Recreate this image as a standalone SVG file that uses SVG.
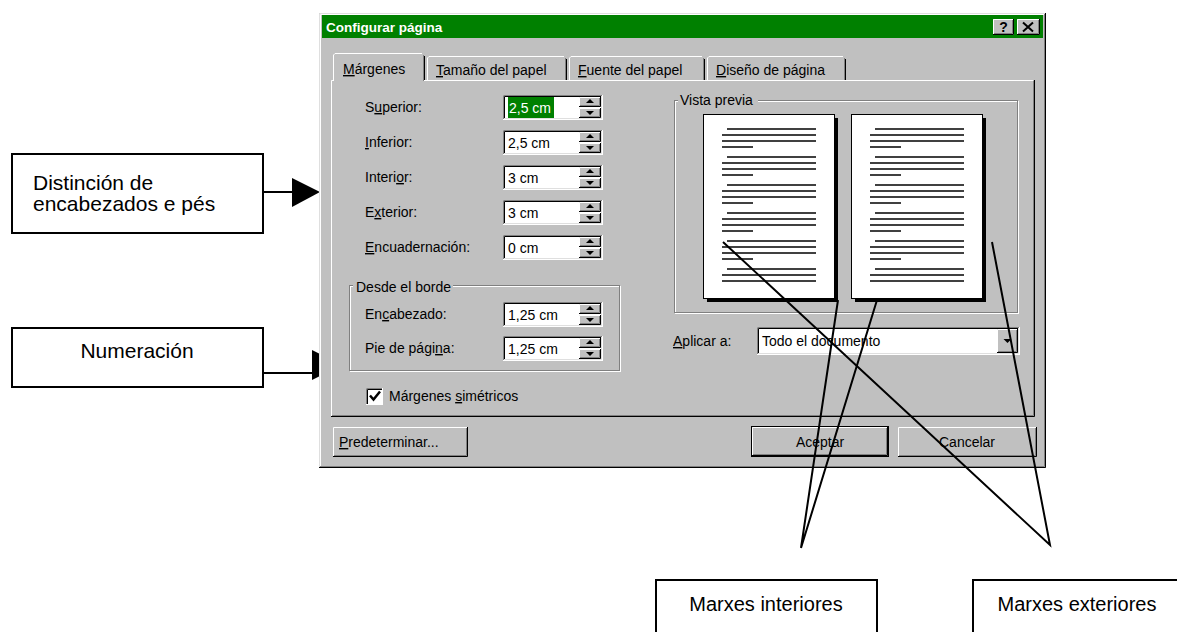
<svg xmlns="http://www.w3.org/2000/svg" width="1177" height="632" viewBox="0 0 1177 632">
<style>
.t{font-family:"Liberation Sans",Arial,sans-serif;font-size:14px;fill:#000}
.tb{font-family:"Liberation Sans",Arial,sans-serif;font-size:13.5px;font-weight:bold;fill:#fff}
.w{fill:#fff}
.u{text-decoration:underline}
.c{font-family:"Liberation Sans",Arial,sans-serif;font-size:21px;fill:#000}
.c2{font-family:"Liberation Sans",Arial,sans-serif;font-size:20px;fill:#000}
.box{fill:#fff;stroke:#000;stroke-width:2}
.lt{stroke:#fff;fill:none}
.lg{stroke:#dfdfdf;fill:none}
.dk{stroke:#808080;fill:none}
.bk{stroke:#000;fill:none}
.con{stroke:#000;stroke-width:2;fill:none}
.pl{stroke:#404040;stroke-width:2;fill:none}
</style>
<defs>
 <g id="sb">
  <rect width="22" height="10" fill="#c0c0c0"/>
  <path class="lt" d="M0.5,9 V0.5 H21"/>
  <path class="bk" d="M0,9.5 H21.5 V0"/>
  <path class="dk" d="M1,8.5 H20.5 V1"/>
 </g>
 <g id="spin">
  <rect width="100" height="25" fill="#fff"/>
  <path class="dk" d="M0.5,25 V0.5 H100"/>
  <path class="bk" d="M1.5,24 V1.5 H99"/>
  <path class="lt" d="M0,24.5 H99.5 V0"/>
  <path class="lg" d="M1,23.5 H98.5 V1"/>
  <use href="#sb" x="76" y="2"/>
  <use href="#sb" x="76" y="13"/>
  <path d="M87,4 L91,8 H83Z" fill="#000"/>
  <path d="M83,16 H91 L87,20Z" fill="#000"/>
 </g>
 <g id="page">
  <rect x="4" y="4" width="131" height="184" fill="#000"/>
  <rect x="0.5" y="0.5" width="131" height="184" fill="#fff" stroke="#000"/>
  <path class="pl" d="M24,15H113M19,21H113M19,27H113M19,33H50 M24,43H113M19,49H113M19,55H113M19,61H50 M24,71H113M19,77H113M19,83H113M19,89H50 M24,99H113M19,105H113M19,111H113M19,117H50 M24,127H113M19,133H113M19,139H113M19,145H50 M24,155H113M19,161H113M19,167H113"/>
 </g>
</defs>

<g id="callout-encabezados">
 <rect class="box" x="12" y="154" width="251" height="79"/>
 <text class="c" x="33" y="190">Distinción de</text>
 <text class="c" x="33" y="211">encabezados e pés</text>
</g>
<g id="callout-numeracion">
 <rect class="box" x="12" y="328" width="251" height="59"/>
 <text class="c" x="137" y="358" text-anchor="middle">Numeración</text>
</g>
<g id="arrows-left">
 <path class="con" d="M263,192H293"/>
 <polygon points="292,178 292,207 320,192" fill="#000"/>
 <path class="con" d="M263,373H313"/>
 <polygon points="312,350 312,380 342,365" fill="#000"/>
</g>

<g id="dialog">
 <rect x="319" y="13" width="727" height="455" fill="#c0c0c0"/>
 <path class="lg" d="M319.5,467 V13.5 H1045"/>
 <path class="lt" d="M320.5,466 V14.5 H1044"/>
 <path class="bk" d="M319,467.5 H1045.5 V13"/>
 <path class="dk" d="M320,466.5 H1044.5 V14"/>
 <g id="titlebar">
  <rect x="322" y="15" width="721" height="23" fill="#008000"/>
  <text class="tb" x="326" y="32">Configurar página</text>
  <rect x="993" y="19" width="21" height="16" fill="#c0c0c0"/>
  <path class="lt" d="M993.5,34 V19.5 H1013"/>
  <path class="bk" d="M993,34.5 H1013.5 V19"/>
  <path class="dk" d="M994,33.5 H1012.5 V20"/>
  <text x="1003.5" y="32" text-anchor="middle" style="font-family:'Liberation Sans',Arial,sans-serif;font-size:14px;font-weight:bold">?</text>
  <rect x="1017" y="19" width="23" height="16" fill="#c0c0c0"/>
  <path class="lt" d="M1017.5,34 V19.5 H1039"/>
  <path class="bk" d="M1017,34.5 H1039.5 V19"/>
  <path class="dk" d="M1018,33.5 H1038.5 V20"/>
  <path d="M1023,22.5 L1033,31.5 M1033,22.5 L1023,31.5" stroke="#000" stroke-width="2"/>
 </g>
 <g id="tabs">
  <path class="lt" d="M331.5,416 V80.5 H1033"/>
  <path class="bk" d="M331,416.5 H1034.5 V80"/>
  <path class="dk" d="M332,415.5 H1033.5 V81"/>
  <path class="lt" d="M427.5,80 V58 L429,56.5 H564"/>
  <path class="dk" d="M565.5,58 V80"/>
  <path class="bk" d="M566.5,59 V80"/>
  <path class="lt" d="M569.5,80 V58 L571,56.5 H702"/>
  <path class="dk" d="M703.5,58 V80"/>
  <path class="bk" d="M704.5,59 V80"/>
  <path class="lt" d="M707.5,80 V58 L709,56.5 H843"/>
  <path class="dk" d="M844.5,58 V80"/>
  <path class="bk" d="M845.5,59 V80"/>
  <rect x="334" y="54" width="89" height="28" fill="#c0c0c0"/>
  <path class="lt" d="M333.5,81 V55 L335,53.5 H422"/>
  <path class="dk" d="M423.5,55 V81"/>
  <path class="bk" d="M424.5,56 V80"/>
  <text class="t" x="343" y="74"><tspan class="u">M</tspan>árgenes</text>
  <text class="t" x="436" y="75"><tspan class="u">T</tspan>amaño del papel</text>
  <text class="t" x="578" y="75"><tspan class="u">F</tspan>uente del papel</text>
  <text class="t" x="716" y="75"><tspan class="u">D</tspan>iseño de página</text>
 </g>
 <g id="margin-fields">
  <text class="t" x="365" y="112">S<tspan class="u">u</tspan>perior:</text>
  <text class="t" x="365" y="147"><tspan class="u">I</tspan>nferior:</text>
  <text class="t" x="365" y="182">Interi<tspan class="u">o</tspan>r:</text>
  <text class="t" x="365" y="217">E<tspan class="u">x</tspan>terior:</text>
  <text class="t" x="365" y="252"><tspan class="u">E</tspan>ncuadernación:</text>
  <use href="#spin" x="503" y="95"/>
  <use href="#spin" x="503" y="130"/>
  <use href="#spin" x="503" y="165"/>
  <use href="#spin" x="503" y="200"/>
  <use href="#spin" x="503" y="235"/>
  <rect x="508" y="97" width="46" height="21" fill="#008000"/>
  <text class="t w" x="509" y="113">2,5 cm</text>
  <text class="t" x="508" y="148">2,5 cm</text>
  <text class="t" x="508" y="183">3 cm</text>
  <text class="t" x="508" y="218">3 cm</text>
  <text class="t" x="508" y="253">0 cm</text>
 </g>
 <g id="desde-borde">
  <rect x="350.5" y="286.5" width="270" height="85" class="lt"/>
  <rect x="349.5" y="285.5" width="270" height="85" class="dk"/>
  <rect x="353" y="279" width="100" height="14" fill="#c0c0c0"/>
  <text class="t" x="356" y="292">Desde el borde</text>
  <text class="t" x="365" y="319">En<tspan class="u">c</tspan>abezado:</text>
  <text class="t" x="365" y="353">Pie de pági<tspan class="u">n</tspan>a:</text>
  <use href="#spin" x="503" y="302"/>
  <use href="#spin" x="503" y="336"/>
  <text class="t" x="508" y="320">1,25 cm</text>
  <text class="t" x="508" y="354">1,25 cm</text>
 </g>
 <g id="simetricos">
  <rect x="366" y="388" width="17" height="17" fill="#fff"/>
  <path class="dk" d="M366.5,405 V388.5 H383"/>
  <path class="bk" d="M367.5,404 V389.5 H382"/>
  <path class="lt" d="M366,404.5 H382.5 V388"/>
  <path d="M370,395.5 L373.5,399.5 L380,391.5" stroke="#000" stroke-width="2.5" fill="none"/>
  <text class="t" x="389" y="401">Márgenes <tspan class="u">s</tspan>imétricos</text>
 </g>
 <g id="vista-previa">
  <rect x="675.5" y="101.5" width="343" height="212" class="lt"/>
  <rect x="674.5" y="100.5" width="343" height="212" class="dk"/>
  <rect x="678" y="93" width="80" height="14" fill="#c0c0c0"/>
  <text class="t" x="680" y="105">Vista previa</text>
  <use href="#page" x="703" y="114"/>
  <use href="#page" x="851" y="114"/>
 </g>
 <g id="aplicar">
  <text class="t" x="673" y="346"><tspan class="u">A</tspan>plicar a:</text>
  <rect x="757" y="327" width="263" height="28" fill="#fff"/>
  <path class="dk" d="M757.5,355 V327.5 H1020"/>
  <path class="bk" d="M758.5,354 V328.5 H1019"/>
  <path class="lt" d="M757,354.5 H1019.5 V327"/>
  <path class="lg" d="M758,353.5 H1018.5 V328"/>
  <rect x="997" y="329" width="21" height="24" fill="#c0c0c0"/>
  <path class="lt" d="M997.5,352 V329.5 H1017"/>
  <path class="bk" d="M997,352.5 H1017.5 V329"/>
  <path class="dk" d="M998,351.5 H1016.5 V330"/>
  <path d="M1003.5,339 H1011.5 L1007.5,343Z" fill="#000"/>
  <text class="t" x="762" y="346">Todo el documento</text>
 </g>
 <g id="btn-predeterminar">
  <path class="lt" d="M333.5,456 V427.5 H467"/>
  <path class="bk" d="M333,456.5 H467.5 V427"/>
  <path class="dk" d="M334,455.5 H466.5 V428"/>
  <text class="t" x="339" y="447"><tspan class="u">P</tspan>redeterminar...</text>
 </g>
 <g id="btn-aceptar">
  <rect x="751.5" y="426.5" width="137" height="30" class="bk"/>
  <path class="lt" d="M752.5,455 V427.5 H887"/>
  <path class="bk" d="M752,455.5 H887.5 V427"/>
  <path class="dk" d="M753,454.5 H886.5 V428"/>
  <text class="t" x="820" y="447" text-anchor="middle">Aceptar</text>
 </g>
 <g id="btn-cancelar">
  <path class="lt" d="M898.5,456 V427.5 H1036"/>
  <path class="bk" d="M898,456.5 H1036.5 V427"/>
  <path class="dk" d="M899,455.5 H1035.5 V428"/>
  <text class="t" x="967" y="447" text-anchor="middle">Cancelar</text>
 </g>
</g>

<g id="connectors">
 <path class="con" d="M838,300 L801,548 L877,300"/>
 <path class="con" d="M723,242 L1050,545 L992,242"/>
</g>

<g id="callout-interiores">
 <rect class="box" x="656" y="580" width="221" height="60"/>
 <text class="c2" x="766" y="611" text-anchor="middle">Marxes interiores</text>
</g>
<g id="callout-exteriores">
 <rect class="box" x="973" y="580" width="220" height="60"/>
 <text class="c2" x="1077" y="611" text-anchor="middle">Marxes exteriores</text>
</g>
</svg>
